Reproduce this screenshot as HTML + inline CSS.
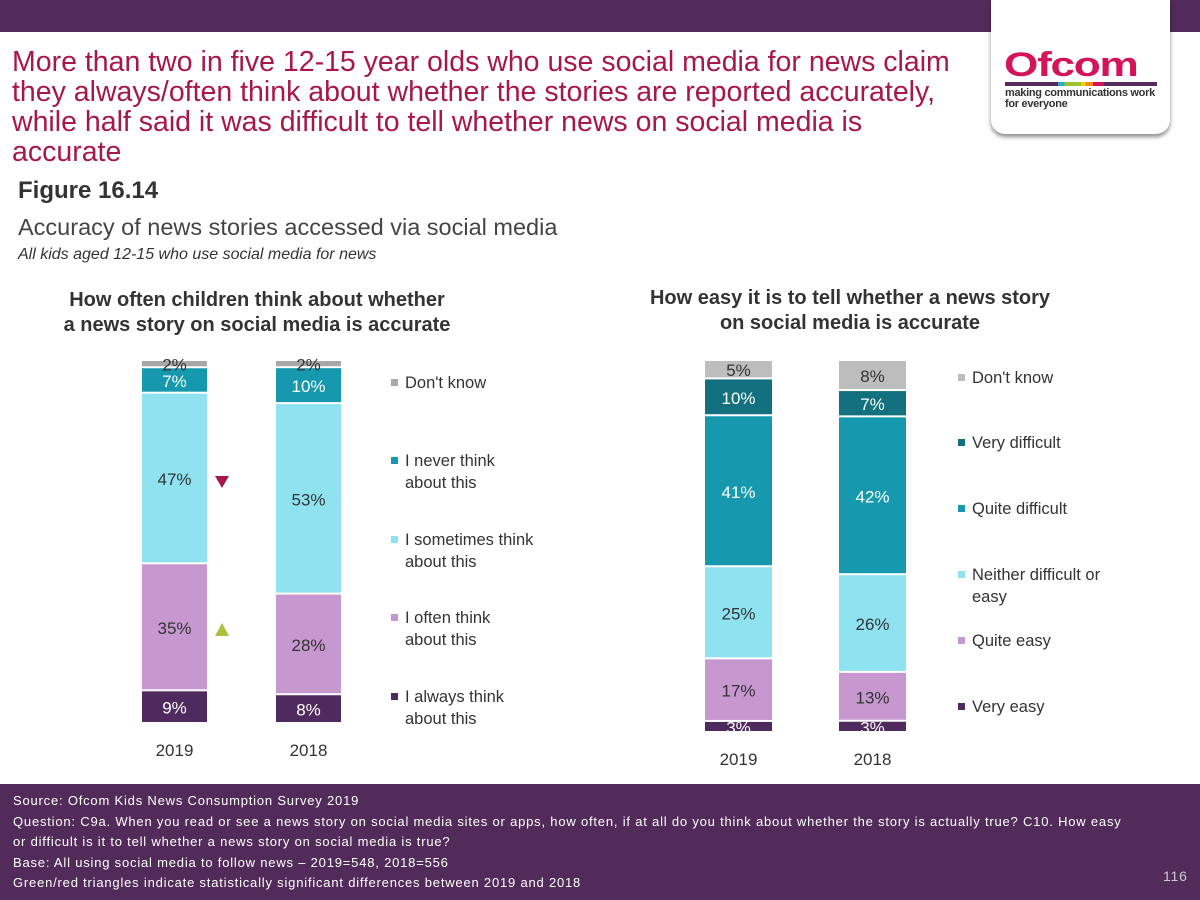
<!DOCTYPE html>
<html><head><meta charset="utf-8"><style>
body{margin:0;width:1200px;height:900px;position:relative;background:#fff;font-family:"Liberation Sans",sans-serif;overflow:hidden}
.abs{position:absolute}
.t{position:absolute;white-space:nowrap}
</style></head><body>
<div class="abs" style="left:0;top:0;width:1200px;height:32px;background:#532b5b"></div>
<div class="abs" style="left:991px;top:0;width:179px;height:134px;background:#fff;border-radius:0 0 14px 14px;box-shadow:0 3px 4px rgba(0,0,0,.45)">
  <div class="t" style="left:13px;top:50px;font-size:34px;font-weight:bold;color:#d4145a;letter-spacing:-1px;line-height:30px;transform:scaleX(1.3);transform-origin:left">Ofcom</div>
  <div class="abs" style="left:14px;top:82px;width:152px;height:4px;background:linear-gradient(90deg,#532b5b 0 35%,#29a9c2 35% 39%,#9fc32e 39% 50%,#f5d000 50% 53%,#f08a1c 53% 58%,#d4145a 58% 65%,#532b5b 65%)"></div>
  <div class="t" style="left:14px;top:88px;font-size:11px;line-height:11px;color:#333;font-weight:bold;letter-spacing:-0.3px">making communications work<br>for everyone</div>
</div>
<div class="t" style="left:12px;top:47px;font-size:28.5px;line-height:30px;color:#a8174a">More than two in five 12-15 year olds who use social media for news claim<br>they always/often think about whether the stories are reported accurately,<br>while half said it was difficult to tell whether news on social media is<br>accurate</div>
<div class="t" style="left:18px;top:177px;font-size:24px;font-weight:bold;color:#333">Figure 16.14</div>
<div class="t" style="left:18px;top:214px;font-size:23.5px;color:#444">Accuracy of news stories accessed via social media</div>
<div class="t" style="left:18px;top:246px;font-size:16px;font-style:italic;color:#333">All kids aged 12-15 who use social media for news</div>
<div class="t" style="left:27px;top:288px;width:460px;text-align:center;font-size:20px;line-height:25px;font-weight:bold;color:#333">How often children think about whether<br>a news story on social media is accurate</div>
<div class="t" style="left:600px;top:286px;width:500px;text-align:center;font-size:20px;line-height:25px;font-weight:bold;color:#333">How easy it is to tell whether a news story<br>on social media is accurate</div>
<svg class="abs" id="chart" style="left:0;top:0" width="1200" height="784"></svg>
<div class="abs" style="left:0;top:784px;width:1200px;height:116px;background:#532b5b;color:#fff;font-size:13px;line-height:20.5px;letter-spacing:0.8px">
  <div class="t" style="left:13px;top:7px;white-space:normal;width:1150px">Source: Ofcom Kids News Consumption Survey 2019<br>Question: C9a. When you read or see a news story on social media sites or apps, how often, if at all do you think about whether the story is actually true? C10. How easy<br>or difficult is it to tell whether a news story on social media is true?<br>Base: All using social media to follow news – 2019=548, 2018=556<br>Green/red triangles indicate statistically significant differences between 2019 and 2018</div>
  <div class="t" style="left:1163px;top:82px;font-size:14px;color:#ccc">116</div>
</div>
<script>
const years=["2019","2018"];
const leftCats=["I always think about this","I often think about this","I sometimes think about this","I never think about this","Don't know"];
const left2019=[9,35,47,7,2];
const left2018=[8,28,53,10,2];
const rightCats=["Very easy","Quite easy","Neither difficult or easy","Quite difficult","Very difficult","Don't know"];
const right2019=[3,17,25,41,10,5];
const right2018=[3,13,26,42,7,8];
const leftColors=["#4f2a5e","#c797d0","#8fe3f1","#1699ae","#a8a8a8"];
const rightColors=["#4f2a5e","#c797d0","#8fe3f1","#1699ae","#13717f","#bdbdbd"];
const leftText=["#fff","#333","#333","#fff","#333"];
const rightText=["#fff","#333","#333","#fff","#fff","#333"];
const svg=document.getElementById('chart');
const NS="http://www.w3.org/2000/svg";
function el(tag,attrs){const e=document.createElementNS(NS,tag);for(const k in attrs)e.setAttribute(k,attrs[k]);svg.appendChild(e);return e;}
function stack(series,xs,w,bottom,height,colors,tcolors,fs,name){
  series.forEach((vals,bi)=>{
    const total=vals.reduce((a,b)=>a+b,0);
    let y=bottom;
    vals.forEach((v,i)=>{
      const h=v/total*height;
      const r=el('rect',{x:xs[bi],y:y-h,width:w,height:Math.max(h-2,1),fill:colors[i]});
      
      
      const tx=el('text',{x:xs[bi]+w/2,y:y-h/2+6,'text-anchor':'middle','font-size':fs,fill:tcolors[i],'font-family':'Liberation Sans, sans-serif'});
      tx.textContent=v+'%';
      
      
      y-=h;
    });
    const yl=el('text',{x:xs[bi]+w/2,y:bottom+32,'text-anchor':'middle','font-size':17,fill:'#333','font-family':'Liberation Sans, sans-serif'});
    yl.textContent=years[bi];
    
    
  });
}
stack([left2019,left2018],[142,276],65,724,363,leftColors,leftText,17,'left');
stack([right2019,right2018],[705,839],67,733,372,rightColors,rightText,17,'right');
function legend(cats,colors,x,ys,name){
  cats.forEach((c,i)=>{
    const idx=cats.length-1-i;
    const cat=cats[idx];
    const r=el('rect',{x:x,y:ys[i]-9,width:7,height:7,fill:colors[idx]});
    
    
    const parts=cat.split('|');
    const t=el('text',{x:x+14,y:ys[i],'font-size':16.5,fill:'#333','font-family':'Liberation Sans, sans-serif'});
    
    
    parts.forEach((p,j)=>{const s=document.createElementNS(NS,'tspan');s.setAttribute('x',x+14);s.setAttribute('dy',j?22:0);s.textContent=p;t.appendChild(s);});
  });
}
legend(["I always think|about this","I often think|about this","I sometimes think|about this","I never think|about this","Don't know"],leftColors,391,[388,466,545,623,702],'left');
legend(["Very easy","Quite easy","Neither difficult or|easy","Quite difficult","Very difficult","Don't know"],rightColors,958,[383,448,514,580,646,712],'right');
const tr1=el('polygon',{points:'215,476 229,476 222,488',fill:'#a8174a'});


const tr2=el('polygon',{points:'215,636 229,636 222,623',fill:'#a9c23f'});


</script>
</body></html>
